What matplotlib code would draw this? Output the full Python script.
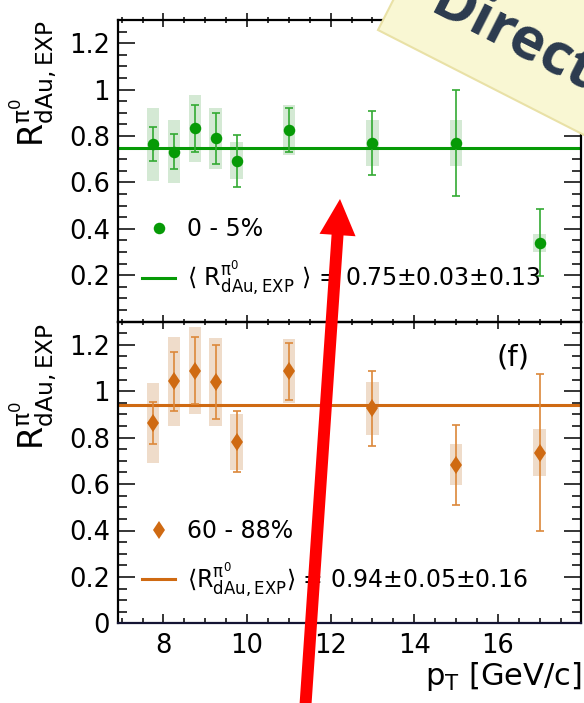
import matplotlib
matplotlib.use('Agg')
import matplotlib.pyplot as plt
import numpy as np
from matplotlib.patches import Polygon, FancyArrowPatch
from matplotlib.ticker import MultipleLocator

plt.rcParams['font.family'] = ['DejaVu Sans']
plt.rcParams['mathtext.fontset'] = 'dejavusans'

# ---------------- data ----------------
pt = [7.75, 8.25, 8.75, 9.25, 9.75, 11.0, 13.0, 15.0, 17.0]

r_central = [0.765, 0.733, 0.833, 0.790, 0.694, 0.826, 0.770, 0.770, 0.340]
stat_central = [0.073, 0.075, 0.100, 0.110, 0.112, 0.095, 0.140, 0.227, 0.145]
sys_central = [0.157, 0.137, 0.145, 0.130, 0.079, 0.109, 0.097, 0.100, 0.040]
mean_central = 0.75

r_periph = [0.864, 1.043, 1.089, 1.040, 0.783, 1.086, 0.926, 0.683, 0.736]
stat_periph = [0.091, 0.127, 0.143, 0.160, 0.130, 0.123, 0.163, 0.172, 0.338]
sys_periph = [0.173, 0.193, 0.188, 0.188, 0.121, 0.138, 0.115, 0.088, 0.100]
mean_periph = 0.94

label_central = "0 - 5%"
label_periph = "60 - 88%"
mean_label_central = r'$\langle\ \mathregular{R^{\pi^{0}}_{dAu,EXP}}\ \rangle$ = 0.75±0.03±0.13'
mean_label_periph = r'$\langle\mathregular{R^{\pi^{0}}_{dAu,EXP}}\rangle$ = 0.94±0.05±0.16'
panel_tag = "(f)"

xticks = [8, 10, 12, 14, 16]
xtick_labels = ['8', '10', '12', '14', '16']
yticks_top = [0.2, 0.4, 0.6, 0.8, 1.0, 1.2]
ytick_labels_top = ['0.2', '0.4', '0.6', '0.8', '1', '1.2']
yticks_bot = [0.0, 0.2, 0.4, 0.6, 0.8, 1.0, 1.2]
ytick_labels_bot = ['0', '0.2', '0.4', '0.6', '0.8', '1', '1.2']
ylabel = r'$\mathregular{R^{\pi^{0}}_{dAu,EXP}}$'
xlabel = r'p$_{\mathregular{T}}$ [GeV/c]'
banner_text = "Direct"

# ---------------- style ----------------
W, H = 584, 703
fig = plt.figure(figsize=(W / 100, H / 100), dpi=100)
fig.patch.set_facecolor('white')

L, R = 117.5, 581.5
ax1 = fig.add_axes([L / W, 1 - 321.7 / H, (R - L) / W, 301.7 / H])
ax2 = fig.add_axes([L / W, 1 - 623.3 / H, (R - L) / W, 301.6 / H])

green = '#069a06'
green_err = '#33aa33'
green_box = '#d4e9d4'
orange = '#cf6a12'
orange_err = '#dc883a'
orange_box = '#efdcca'

def draw_panel(ax, r, stat, sys, mean, mcol, ecol, bcol, marker, ms):
    r = np.asarray(r); sys = np.asarray(sys)
    ax.bar(pt, 2 * sys, bottom=r - sys, width=0.3, color=bcol, zorder=1, linewidth=0)
    hline = ax.axhline(mean, color=mcol, lw=2.2, zorder=2)
    ax.errorbar(pt, r, yerr=stat, fmt='none', ecolor=ecol, elinewidth=1.2,
                capsize=2.6, capthick=1.2, zorder=3)
    hm, = ax.plot(pt, r, linestyle='none', marker=marker, ms=ms, color=mcol,
                  markeredgewidth=0, zorder=4)
    return hm, hline

hm1, hl1 = draw_panel(ax1, r_central, stat_central, sys_central, mean_central,
                      green, green_err, green_box, 'o', 8.3)
hm2, hl2 = draw_panel(ax2, r_periph, stat_periph, sys_periph, mean_periph,
                      orange, orange_err, orange_box, 'd', 9.6)

for ax in (ax1, ax2):
    ax.set_facecolor('none')
    ax.set_xlim(6.9, 18.0)
    ax.set_ylim(0, 1.3)
    ax.set_xticks(xticks)
    ax.xaxis.set_minor_locator(MultipleLocator(0.5))
    ax.yaxis.set_minor_locator(MultipleLocator(0.05))
    ax.tick_params(axis='y', which='major', direction='in', length=12, width=1.1,
                   left=True, right=True, labelsize=18.5, pad=5.5)
    ax.tick_params(axis='y', which='minor', direction='in', length=6.5, width=1.1,
                   left=True, right=True)
    for s in ax.spines.values():
        s.set_linewidth(1.6)

ax1.set_yticks(yticks_top, ytick_labels_top)
ax2.set_yticks(yticks_bot, ytick_labels_bot)
ax1.tick_params(axis='x', which='major', direction='inout', length=10, width=1.1,
                top=True, bottom=True, labelbottom=False)
ax1.tick_params(axis='x', which='minor', direction='inout', length=5, width=1.1,
                top=True, bottom=True)
ax2.set_xticks(xticks, xtick_labels)
ax2.tick_params(axis='x', which='major', direction='in', length=6.5, width=1.1,
                top=False, bottom=True, labelsize=18.5, pad=7)
ax2.tick_params(axis='x', which='minor', direction='in', length=3.5, width=1.1,
                top=False, bottom=True)
ax2.spines['bottom'].set_color('#141434')
ax2.set_zorder(0); ax1.set_zorder(1)

# y labels
ax1.text(-0.182, 1.0, ylabel, rotation=90, transform=ax1.transAxes,
         ha='center', va='top', fontsize=24)
ax2.text(-0.182, 0.995, ylabel, rotation=90, transform=ax2.transAxes,
         ha='center', va='top', fontsize=24)

# x label
ax2.text(1.0, -0.203, xlabel, transform=ax2.transAxes, ha='right',
         va='baseline', fontsize=22)

# panel tag
ax2.text(0.852, 0.88, panel_tag, transform=ax2.transAxes, ha='center',
         va='center', fontsize=21)

# legends
leg_kw = dict(frameon=False, fontsize=17, handlelength=1.4, handletextpad=0.5,
              labelspacing=0.72, borderpad=0, borderaxespad=0, loc='lower left',
              numpoints=1)
ax1.legend([hm1, hl1], [label_central, mean_label_central],
           bbox_to_anchor=(0.053, 0.082), **leg_kw)
ax2.legend([hm2, hl2], [label_periph, mean_label_periph],
           bbox_to_anchor=(0.053, 0.082), **leg_kw)

# banner ("Direct") overlay
ang = np.deg2rad(27)
u = np.array([np.cos(ang), np.sin(ang)])
n = np.array([np.sin(ang), -np.cos(ang)])
bl = np.array([378.0, 30.0])
corners = [bl, bl + 420 * u, bl + 420 * u + 160 * n, bl + 160 * n]
corners_fig = [(c[0] / W, 1 - c[1] / H) for c in corners]
fig.add_artist(Polygon(corners_fig, closed=True, transform=fig.transFigure,
                       facecolor='#f9f7d3', edgecolor='#e9e1a6', lw=1.5, zorder=10))
fig.text(428 / W, 1 - 12 / H, banner_text, rotation=-27, rotation_mode='anchor',
         ha='left', va='baseline', fontsize=42, fontweight='bold',
         family=['Open Sans', 'DejaVu Sans'], color='#2b3a4e', zorder=11)

# red arrow overlay
arrow = FancyArrowPatch((305 / W, 1 - 712 / H), (340 / W, 1 - 199 / H),
                        transform=fig.transFigure,
                        arrowstyle='simple,head_length=26,head_width=26,tail_width=8.6',
                        mutation_scale=1, shrinkA=0, shrinkB=0,
                        color='#ff0000', lw=0, zorder=12)
fig.add_artist(arrow)

fig.savefig('out.png', dpi=100)
